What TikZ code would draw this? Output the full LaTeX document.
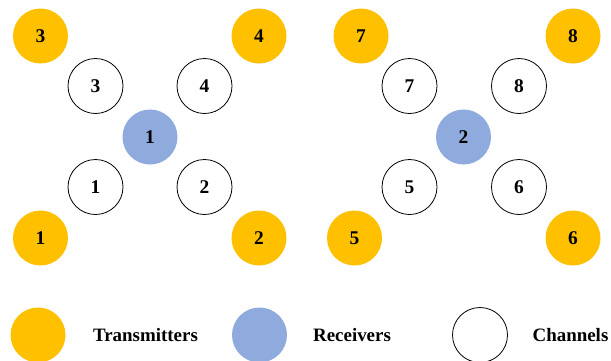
\documentclass[tikz,border=0pt]{standalone}
\usepackage{fontspec}
\setmainfont{Liberation Serif}
\definecolor{txorange}{HTML}{FFC000}
\definecolor{rxblue}{HTML}{8FAADC}
\begin{document}
\begin{tikzpicture}[x=1bp,y=-1bp,
  base/.style={circle,minimum size=55bp,inner sep=0pt,font=\fontsize{19.5}{21}\selectfont\bfseries},
  tx/.style={base,fill=txorange},
  rx/.style={base,fill=rxblue},
  ch/.style={base,draw=black,line width=0.8bp,fill=white},
  leg/.style={font=\fontsize{19}{21}\selectfont\bfseries,inner sep=0pt}]
\useasboundingbox (0,0) rectangle (611,360);
% left group
\node[tx] (t3) at (40.5,36) {3};
\node[tx] (t4) at (259,36) {4};
\node[ch] (c3) at (95.5,86) {3};
\node[ch] (c4) at (204.5,86) {4};
\node[rx] (r1) at (150,137) {1};
\node[ch] (c1) at (95.5,187) {1};
\node[ch] (c2) at (204.5,187) {2};
\node[tx] (t1) at (40.5,238) {1};
\node[tx] (t2) at (259,238) {2};
% right group
\node[tx] (t7) at (361,36) {7};
\node[tx] (t8) at (573,36) {8};
\node[ch] (c7) at (409.5,86) {7};
\node[ch] (c8) at (519,86) {8};
\node[rx] (r2) at (463.5,137) {2};
\node[ch] (c5) at (409.5,187) {5};
\node[ch] (c6) at (519,187) {6};
\node[tx] (t5) at (354.5,238) {5};
\node[tx] (t6) at (573,238) {6};
% legend
\node[tx] (lt) at (38,335) {};
\node[leg] (ltt) at (145.5,335) {Transmitters};
\node[rx] (lr) at (259.5,335) {};
\node[leg] (lrt) at (352,335) {Receivers};
\node[ch] (lc) at (480,335) {};
\node[leg] (lct) at (570.5,335) {Channels};
\end{tikzpicture}
\end{document}
